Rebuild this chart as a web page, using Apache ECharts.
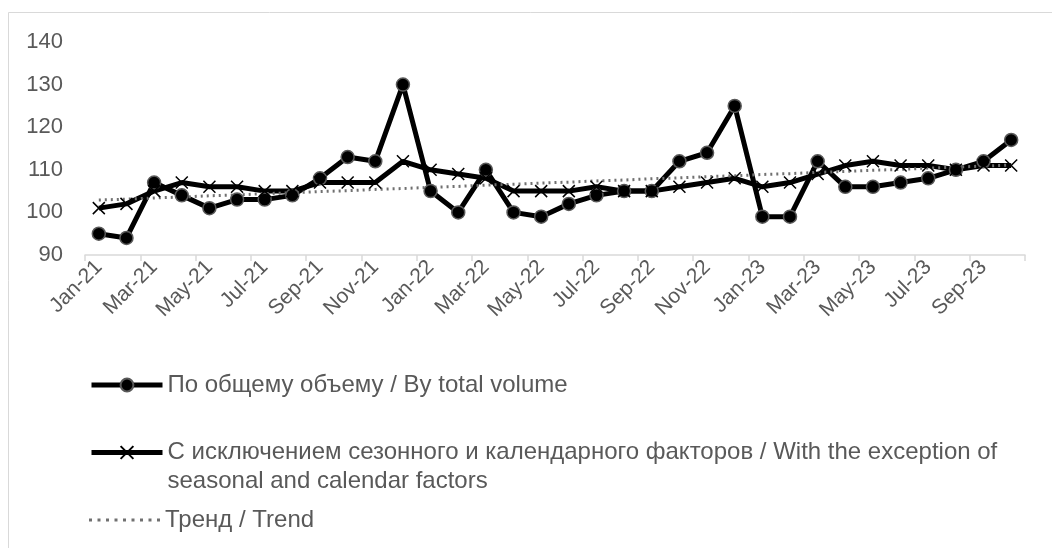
<!DOCTYPE html>
<html>
<head>
<meta charset="utf-8">
<script src="https://cdn.jsdelivr.net/npm/echarts@6/dist/echarts.min.js"></script>
<style>
  html, body { margin: 0; padding: 0; background: #fff; }
  #chart { width: 1052px; height: 548px; }
</style>
</head>
<body>
<div id="chart"></div>
<script>
const months = ['Jan-21', 'Feb-21', 'Mar-21', 'Apr-21', 'May-21', 'Jun-21', 'Jul-21', 'Aug-21', 'Sep-21', 'Oct-21', 'Nov-21', 'Dec-21',
  'Jan-22', 'Feb-22', 'Mar-22', 'Apr-22', 'May-22', 'Jun-22', 'Jul-22', 'Aug-22', 'Sep-22', 'Oct-22', 'Nov-22', 'Dec-22',
  'Jan-23', 'Feb-23', 'Mar-23', 'Apr-23', 'May-23', 'Jun-23', 'Jul-23', 'Aug-23', 'Sep-23', 'Oct-23'];

const totalVolume = [95, 94, 107, 104, 101, 103, 103, 104, 108, 113, 112, 130,
  105, 100, 110, 100, 99, 102, 104, 105, 105, 112, 114, 125,
  99, 99, 112, 106, 106, 107, 108, 110, 112, 117];

const seasonAdjusted = [101, 102, 105, 107, 106, 106, 105, 105, 107, 107, 107, 112,
  110, 109, 108, 105, 105, 105, 106, 105, 105, 106, 107, 108,
  106, 107, 109, 111, 112, 111, 111, 110, 111, 111];

// straight trend line, read at each month
const trend = [102.9, 103.1, 103.4, 103.6, 103.9, 104.1, 104.4, 104.6, 104.9, 105.1, 105.4, 105.6,
  105.9, 106.1, 106.4, 106.6, 106.9, 107.1, 107.4, 107.6, 107.9, 108.1, 108.4, 108.6,
  108.9, 109.1, 109.4, 109.6, 109.9, 110.1, 110.4, 110.6, 110.9, 111.1];

const names = [
  'По общему объему / By total volume',
  'С исключением сезонного и календарного факторов / With the exception of seasonal and calendar factors',
  'Тренд / Trend'
];

const font = '"Liberation Sans", Arial, sans-serif';
const grey = '#595959';
const trendGrey = '#707070';
const crossPath = 'path://M0,0L10,10M10,0L0,10';
// row of small dots for the trend legend key
const dotsPath = 'path://M0,0h3v3h-3z M8.5,0h3v3h-3z M17,0h3v3h-3z M25.5,0h3v3h-3z M34,0h3v3h-3z M42.5,0h3v3h-3z M51,0h3v3h-3z M59.5,0h3v3h-3z M68,0h3v3h-3z';

const chart = echarts.init(document.getElementById('chart'));

const legendBase = {
  orient: 'vertical',
  left: 89,
  padding: 0,
  itemWidth: 71,
  itemHeight: 16,
  itemGap: 0,
  lineStyle: { width: 5 },
  textStyle: { fontFamily: font, fontSize: 24, color: grey, lineHeight: 29 }
};

chart.setOption({
  animation: false,
  backgroundColor: '#fff',
  graphic: [{
    type: 'rect',
    shape: { x: 8.5, y: 12.5, width: 1200, height: 700 },
    style: { fill: 'none', stroke: '#d9d9d9', lineWidth: 1 },
    silent: true
  }],
  grid: { left: 85, right: 27, top: 42, bottom: 293 },
  legend: [
    Object.assign({}, legendBase, { top: 370.5, data: [names[0]] }),
    Object.assign({}, legendBase, {
      top: 409,
      data: [names[1]],
      // empty first line keeps the key beside the first text line
      formatter: () => '\nС исключением сезонного и календарного факторов / With the exception of\nseasonal and calendar factors'
    }),
    Object.assign({}, legendBase, {
      top: 505.5,
      symbolKeepAspect: true,
      data: [{ name: names[2], icon: dotsPath, itemStyle: { color: trendGrey, borderWidth: 0 } }]
    })
  ],
  xAxis: {
    type: 'category',
    data: months,
    boundaryGap: true,
    axisLine: { lineStyle: { color: '#d9d9d9', width: 1.5 } },
    axisTick: { show: true, interval: 1, length: 6, lineStyle: { color: '#d9d9d9', width: 1.5 } },
    axisLabel: {
      interval: 1,
      rotate: 45,
      margin: 9,
      fontFamily: font,
      fontSize: 21,
      color: grey
    },
    splitLine: { show: false }
  },
  yAxis: {
    type: 'value',
    min: 90,
    max: 140,
    interval: 10,
    axisLine: { show: false },
    axisTick: { show: false },
    splitLine: { show: false },
    axisLabel: { fontFamily: font, fontSize: 22, color: grey, margin: 22 }
  },
  series: [
    {
      name: names[0],
      type: 'line',
      data: totalVolume,
      symbol: 'circle',
      symbolSize: 13,
      lineStyle: { color: '#000', width: 5 },
      itemStyle: { color: '#000', borderColor: grey, borderWidth: 1.5 }
    },
    {
      name: names[1],
      type: 'line',
      data: seasonAdjusted,
      symbol: crossPath,
      symbolSize: 12,
      lineStyle: { color: '#000', width: 5 },
      itemStyle: { color: '#000', borderColor: '#000', borderWidth: 1.5 }
    },
    {
      name: names[2],
      type: 'line',
      data: trend,
      symbol: 'none',
      lineStyle: { color: trendGrey, width: 3, type: [2, 4] },
      itemStyle: { color: trendGrey }
    }
  ]
});
</script>
</body>
</html>
